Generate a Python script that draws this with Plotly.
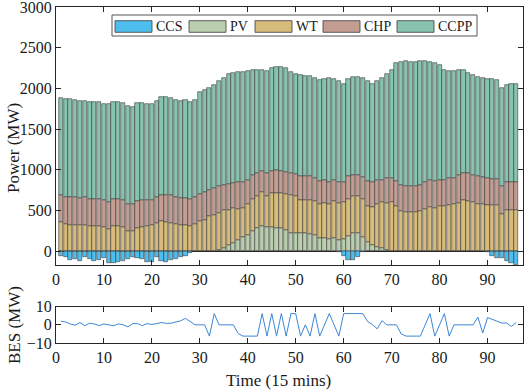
import plotly.graph_objects as go

# ---------------- data ----------------
time = list(range(1, 97))

ccs = [-60, -75, -110, -95, -125, -70, -100, -125, -105, -90,
       -150, -150, -130, -120, -100, -75, -85, -100, -135, -135,
       -70, -120, -135, -105, -95, -75, -60, -25, 0, 0,
       0, 0, 0, 0, 0, 0, 0, 0, 0, 0,
       0, 0, 0, 0, 0, 0, 0, 0, 0, 0,
       0, 0, 0, 0, 0, 0, 0, 0, -10, -60,
       -105, -110, -75, -10, 0, 0, 0, 0, 0, 0,
       0, 0, 0, 0, 0, 0, 0, 0, 0, 0,
       0, 0, 0, 0, 0, 0, 0, 0, 0, -15,
       -55, -80, -80, -120, -140, -175]

pv = [0, 0, 0, 0, 0, 0, 0, 0, 0, 0,
      0, 0, 0, 0, 0, 0, 0, 0, 0, 0,
      0, 0, 0, 0, 0, 0, 0, 0, 0, 0,
      0, 0, 3, 12, 40, 75, 105, 140, 175, 200,
      245, 285, 310, 300, 295, 290, 280, 255, 228, 228,
      220, 218, 215, 200, 165, 160, 150, 160, 140, 145,
      190, 225, 228, 180, 110, 80, 50, 35, 15, 5,
      0, 0, 0, 0, 0, 0, 0, 0, 0, 0,
      0, 0, 0, 0, 0, 0, 0, 0, 0, 0,
      0, 0, 0, 0, 0, 0]

wt = [356, 330, 327, 325, 320, 322, 310, 308, 305, 300,
      275, 305, 308, 300, 245, 248, 290, 295, 315, 320,
      350, 365, 362, 352, 335, 320, 322, 310, 330, 370,
      385, 429, 437, 458, 463, 435, 420, 380, 355, 385,
      390, 389, 413, 374, 415, 430, 440, 450, 467, 446,
      414, 416, 419, 415, 420, 430, 425, 455, 450, 455,
      450, 449, 446, 460, 450, 465, 535, 565, 575, 595,
      560, 490, 478, 478, 478, 490, 515, 540, 530, 550,
      550, 570, 585, 595, 634, 615, 600, 585, 575, 565,
      565, 565, 462, 500, 505, 511]

chp = [339, 340, 340, 339, 338, 338, 332, 332, 335, 332,
       331, 335, 334, 332, 340, 337, 332, 335, 310, 310,
       318, 330, 332, 333, 333, 332, 330, 330, 330, 335,
       345, 326, 335, 330, 307, 315, 315, 325, 325, 295,
       305, 286, 266, 286, 280, 272, 270, 273, 266, 271,
       286, 286, 284, 285, 273, 280, 280, 265, 265, 250,
       280, 266, 266, 270, 298, 300, 285, 280, 315, 295,
       298, 328, 319, 319, 319, 328, 330, 330, 332, 320,
       325, 325, 320, 340, 327, 340, 340, 335, 335, 330,
       327, 327, 343, 345, 340, 339]

ccpp = [1193, 1200, 1198, 1198, 1192, 1188, 1188, 1188, 1190, 1178,
        1202, 1195, 1196, 1188, 1193, 1190, 1193, 1195, 1180, 1180,
        1182, 1200, 1196, 1195, 1192, 1198, 1200, 1195, 1195, 1245,
        1255, 1250, 1270, 1295, 1315, 1350, 1355, 1355, 1350, 1330,
        1280, 1270, 1239, 1255, 1260, 1268, 1272, 1270, 1246, 1233,
        1240, 1238, 1240, 1230, 1239, 1240, 1270, 1230, 1235, 1206,
        1190, 1206, 1206, 1215, 1232, 1215, 1225, 1245, 1275, 1335,
        1452, 1512, 1545, 1533, 1533, 1514, 1497, 1450, 1448, 1415,
        1353, 1320, 1310, 1293, 1259, 1232, 1230, 1225, 1220, 1215,
        1218, 1208, 1198, 1195, 1203, 1198]

bes = [2.0, 1.6, 0.5, -0.2, 1.3, -0.5, 0.9, 0.5, -0.4, 0.5,
       0.0, -0.5, 0.5, 0.0, -1.1, 0.7, 0.7, -0.4, 0.7, 0.2,
       0.7, 1.3, 0.8, 0.9, 1.6, 2.2, 3.6, 1.8, 0.0, 0.0,
       0.0, -6.2, 6.2, 0.0, 0.0, 0.0, 0.0, -4.8, -6.2, -6.2,
       -6.2, -6.2, 6.2, -6.2, 6.2, -6.2, 6.2, -6.2, 6.2, 6.2,
       -6.2, 0.0, -6.2, 6.2, -6.2, 0.0, 6.2, 0.0, -6.2, 6.2,
       6.2, 6.2, 6.2, 6.2, 1.8, 0.2, -2.2, 2.3, 0.0, 0.0,
       0.0, -5.0, -6.2, -6.2, -6.2, -6.2, 0.0, 6.2, -6.2, 0.0,
       6.2, -6.2, 0.0, 0.0, 0.0, 0.0, 0.0, 4.3, -4.5, 4.0,
       3.0, 2.4, 1.0, 1.0, -0.9, 1.3]

series_names = ["CCS", "PV", "WT", "CHP", "CCPP"]
series_colors = ["#4DBEEE", "#B9CFAE", "#D7BB7A", "#C39D91", "#87C3AF"]
series_values = [ccs, pv, wt, chp, ccpp]

x_ticks = [0, 10, 20, 30, 40, 50, 60, 70, 80, 90]
power_ticks = [0, 500, 1000, 1500, 2000, 2500, 3000]
bes_ticks = [-10, 0, 10]

# ---------------- figure ----------------
FONT = "Liberation Serif, Times New Roman, serif"
TXT = "#1a1a1a"
AX = "#262626"
EDGE = "#3a3a3a"

W, H = 526, 392
ML, MR, MT, MB = 56, 3, 7, 49
PW, PH = W - ML - MR, H - MT - MB


def px_x(px):
    return (px - ML) / PW


def px_y(py):
    return (H - MB - py) / PH


fig = go.Figure()
for name, vals, col in zip(series_names, series_values, series_colors):
    fig.add_trace(go.Bar(
        x=time, y=vals, name=name, width=0.86,
        marker=dict(color=col, line=dict(color=EDGE, width=0.6)),
        xaxis="x", yaxis="y", showlegend=False,
    ))

fig.add_trace(go.Scatter(
    x=time, y=bes, mode="lines", name="BES",
    line=dict(color="#3C86D6", width=1.0),
    xaxis="x2", yaxis="y2", showlegend=False,
))

axis_common = dict(
    showline=True, linecolor=AX, linewidth=1, mirror="ticks",
    ticks="inside", ticklen=5, tickcolor=AX, tickwidth=1,
    showgrid=False, automargin=False, ticklabeloverflow="allow",
    tickfont=dict(family=FONT, size=16, color=TXT),
)

fig.update_layout(
    width=W, height=H,
    margin=dict(l=ML, r=MR, t=MT, b=MB, autoexpand=False),
    paper_bgcolor="white", plot_bgcolor="white",
    barmode="relative", bargap=0,
    font=dict(family=FONT, size=16, color=TXT),
    xaxis=dict(domain=[0, 1], range=[0, 97.4], tickvals=x_ticks,
               anchor="y", zeroline=False, **axis_common),
    yaxis=dict(domain=[px_y(265), 1], range=[-170, 3000], tickvals=power_ticks,
               anchor="x", zeroline=True, zerolinecolor="#222222", zerolinewidth=1,
               **axis_common),
    xaxis2=dict(domain=[0, 1], range=[0, 97.4], tickvals=x_ticks,
                anchor="y2", zeroline=False, **axis_common),
    yaxis2=dict(domain=[0, px_y(306.7)], range=[-10, 10], tickvals=bes_ticks,
                anchor="x2", zeroline=False, **axis_common),
)

# axis titles
fig.add_annotation(text="Power (MW)", textangle=-90, xref="paper", yref="paper",
                   x=px_x(14), y=px_y(148), xanchor="center", yanchor="middle",
                   showarrow=False, font=dict(family=FONT, size=17, color=TXT))
fig.add_annotation(text="BES (MW)", textangle=-90, xref="paper", yref="paper",
                   x=px_x(14), y=px_y(325), xanchor="center", yanchor="middle",
                   showarrow=False, font=dict(family=FONT, size=17, color=TXT))
fig.add_annotation(text="Time (15 mins)", xref="paper", yref="paper",
                   x=px_x(278), y=px_y(380), xanchor="center", yanchor="middle",
                   showarrow=False, font=dict(family=FONT, size=17, color=TXT))

# legend (box with long swatches, like the original)
fig.add_shape(type="rect", xref="paper", yref="paper",
              x0=px_x(112), x1=px_x(477), y0=px_y(36), y1=px_y(15),
              line=dict(color="#555555", width=1), fillcolor="white", layer="above")
swatch_left = [115, 189, 255, 323, 397]
for name, col, sx in zip(series_names, series_colors, swatch_left):
    fig.add_shape(type="rect", xref="paper", yref="paper",
                  x0=px_x(sx), x1=px_x(sx + 37), y0=px_y(32.3), y1=px_y(20.7),
                  line=dict(color=EDGE, width=0.8), fillcolor=col, layer="above")
    fig.add_annotation(text=name, xref="paper", yref="paper",
                       x=px_x(sx + 39), y=px_y(26.5), xanchor="left", yanchor="middle",
                       showarrow=False, font=dict(family=FONT, size=14, color=TXT))

fig.write_html(
    "out.html",
    config={"displayModeBar": False},
    post_script="document.body.style.margin='0px';document.body.style.overflow='hidden';",
)
